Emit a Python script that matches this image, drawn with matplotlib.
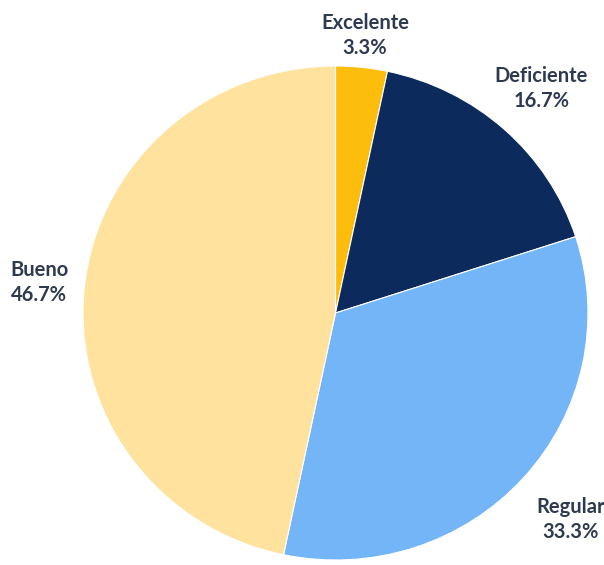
import numpy as np
import matplotlib
matplotlib.use("Agg")
import matplotlib.pyplot as plt

categories = ["Excelente", "Deficiente", "Regular", "Bueno"]
values = [3.3, 16.7, 33.3, 46.7]
pct_labels = ["3.3%", "16.7%", "33.3%", "46.7%"]
colors = ["#FDBD0C", "#0C2B5C", "#74B5F8", "#FEE29E"]
label_dist = [1.13, 1.22, 1.25, 1.18]

plt.rcParams['font.family'] = ['Lato', 'DejaVu Sans']

fig = plt.figure(figsize=(6.04, 5.65), dpi=100)
ax = fig.add_axes([83/604, 5/565, 505/604, 494/565])

wedges, _ = ax.pie(values, colors=colors, startangle=90, counterclock=False,
                   radius=1.0,
                   wedgeprops=dict(edgecolor="white", linewidth=0.8))
ax.set_aspect('auto')
ax.set_xlim(-1, 1)
ax.set_ylim(-1, 1)

for i, w in enumerate(wedges):
    ang = np.deg2rad((w.theta1 + w.theta2) / 2)
    d = label_dist[i]
    x = d * np.cos(ang)
    y = d * np.sin(ang)
    ax.text(x, y, f"{categories[i]}\n{pct_labels[i]}", ha="center", va="center",
            fontsize=14.5, fontweight="bold", color="#2F3A50", linespacing=1.3,
            clip_on=False)

ax.axis('off')
fig.savefig("out.png", dpi=100)
